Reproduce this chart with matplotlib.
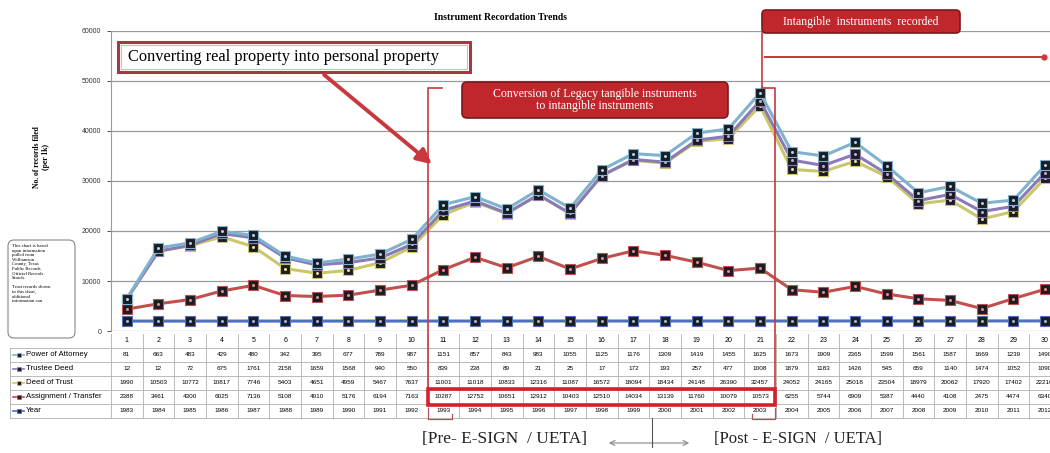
import matplotlib.pyplot as plt
import numpy as np
from matplotlib.patches import Rectangle, FancyBboxPatch, FancyArrowPatch

plt.rcParams['font.family'] = ['Liberation Sans', 'DejaVu Sans']

periods = list(range(1, 31))
years = list(range(1983, 2013))
power_of_attorney = [81, 663, 483, 429, 480, 342, 395, 677, 789, 987, 1151, 857, 843, 983, 1055,
                     1125, 1176, 1309, 1419, 1455, 1625, 1673, 1909, 2365, 1599, 1561, 1587, 1669, 1239, 1490]
trustee_deed = [12, 12, 72, 675, 1761, 2158, 1659, 1568, 940, 550, 839, 238, 89, 21, 25,
                17, 172, 193, 257, 477, 1008, 1879, 1183, 1426, 545, 659, 1140, 1474, 1052, 1090]
deed_of_trust = [1990, 10503, 10772, 10817, 7746, 5403, 4651, 4959, 5467, 7637, 11001, 11018, 10833, 12316, 11087,
                 16572, 18094, 18434, 24148, 26390, 32457, 24052, 24165, 25018, 23504, 18979, 20062, 17920, 17402, 22210]
assignment = [2388, 3461, 4300, 6025, 7136, 5108, 4910, 5176, 6194, 7163, 10287, 12752, 10651, 12912, 10403,
              12510, 14034, 13139, 11760, 10079, 10573, 6255, 5744, 6909, 5387, 4440, 4108, 2475, 4474, 6340]

W, H = 1050, 453
fig = plt.figure(figsize=(W / 100, H / 100), dpi=100)

def fx(x):
    return x / W

def fy(y):
    return 1 - y / H

# main plot area (runs off the right edge like the original screenshot)
ax = fig.add_axes([fx(110.9), fy(331), 950 / W, 300 / H])
ax.set_xlim(0.5, 30.5)
ax.set_ylim(0, 60000)
ax.set_yticks(range(0, 60001, 10000))
ax.tick_params(axis='y', labelsize=5, colors='#333333', length=3, width=0.6, pad=4)
ax.set_xticks([])
for s in ['top', 'right', 'bottom']:
    ax.spines[s].set_visible(False)
ax.spines['left'].set_color('#999999')
ax.grid(axis='y', color='#999999', lw=0.9)
ax.set_axisbelow(True)

stack = [years, assignment, deed_of_trust, trustee_deed, power_of_attorney]
colors = ['#4f6fc0', '#c0504d', '#c9c76a', '#8a7ab8', '#7fb2cf']
inner = ['#9db3e8', '#e08b88', '#e8e48a', '#b8a8de', '#a8d4ea']
cum = np.cumsum(np.array(stack, dtype=float), axis=0)
for i in range(len(stack)):
    ax.plot(periods, cum[i], '-', color=colors[i], lw=2.2, zorder=3 + i)
    ax.plot(periods, cum[i], 's', ms=7, mfc='#1c1c24', mec=colors[i], mew=0.8, zorder=3 + i)
    ax.plot(periods, cum[i], 'o', ms=2.2, mfc=inner[i], mec='none', zorder=3 + i)

ax.text(-0.073, 0.58, 'No. of records filed\n(per 1k)', transform=ax.transAxes, rotation=90,
        ha='center', va='center', fontsize=5.5, fontweight='bold', family='Liberation Serif')

# overlay in pixel coordinates for table and annotations
ov = fig.add_axes([0, 0, 1, 1])
ov.set_xlim(0, W)
ov.set_ylim(H, 0)
ov.axis('off')

ov.text(500, 18, 'Instrument Recordation Trends', ha='center', va='center', fontsize=7,
        fontweight='bold', family='Liberation Serif')

# data table
x0, cw = 110.9, 950 / 30
top, rh = 334, 14
row_names = ['Power of Attorney', 'Trustee Deed', 'Deed of Trust', 'Assignment / Transfer', 'Year']
row_vals = [power_of_attorney, trustee_deed, deed_of_trust, assignment, years]
row_cols = [colors[4], colors[3], colors[2], colors[1], colors[0]]
gc = '#b0b0b0'
for k in range(31):
    ov.plot([x0 + k * cw] * 2, [top, top + 6 * rh], color=gc, lw=0.6)
for r in range(1, 7):
    ov.plot([10, x0 + 30 * cw], [top + r * rh] * 2, color=gc, lw=0.6)
ov.plot([10, 10], [top + rh, top + 6 * rh], color=gc, lw=0.6)
for j, p in enumerate(periods):
    ov.text(x0 + (j + 0.5) * cw, top + rh / 2, str(p), ha='center', va='center', fontsize=5)
for r, (name, vals, c) in enumerate(zip(row_names, row_vals, row_cols)):
    yc = top + (r + 1.5) * rh
    ov.plot([13, 24], [yc, yc], color=c, lw=1.2)
    ov.plot([18.5], [yc], 's', ms=2.5, mfc='#1c1c24', mec=c, mew=0.5)
    ov.text(26, yc, name, ha='left', va='center', fontsize=5.6)
    for j, v in enumerate(vals):
        ov.text(x0 + (j + 0.5) * cw, yc, str(v), ha='center', va='center', fontsize=4.6)

red = '#c0272d'
# converting box + arrow
ov.add_patch(Rectangle((118, 42), 352, 30, fc='white', ec='#a33a3f', lw=2.2, zorder=5))
ov.add_patch(Rectangle((121, 45), 346, 24, fc='none', ec='#e3b5b7', lw=0.8, zorder=5))
ov.text(128, 57, 'Converting real property into personal property', ha='left', va='center',
        fontsize=11.8, family='Liberation Serif', zorder=6)
ov.add_patch(FancyArrowPatch((322, 73), (434, 166), arrowstyle='-|>', mutation_scale=22,
                             color='#c8383d', lw=2.8, zorder=6))

# conversion label
ov.add_patch(FancyBboxPatch((462, 82), 266, 36, boxstyle='round,pad=0,rounding_size=5',
                            fc=red, ec='#7a1a1e', lw=1.2, zorder=6))
ov.text(595, 100, 'Conversion of Legacy tangible instruments\nto intangible instruments', ha='center',
        va='center', color='white', fontsize=8.5, family='Liberation Serif', linespacing=1.1, zorder=7)

# intangible label
ov.add_patch(FancyBboxPatch((762, 10), 198, 23, boxstyle='round,pad=0,rounding_size=4',
                            fc=red, ec='#7a1a1e', lw=1.2, zorder=6))
ov.text(861, 21.5, 'Intangible  instruments  recorded', ha='center', va='center', color='white',
        fontsize=8.5, family='Liberation Serif', zorder=7)
ov.plot([762, 762], [33, 88], color='#c8383d', lw=1.2, zorder=6)
ov.plot([765, 1042], [57, 57], color='#c8383d', lw=1.4, zorder=6)
ov.plot([1044], [57], 'o', ms=3.5, color='#c8383d', zorder=6)

# bracket around the conversion period
bc = '#c8383d'
ov.plot([442, 428, 428], [88, 88, 390], color=bc, lw=1.2, zorder=6)
ov.plot([762, 775, 775], [88, 88, 390], color=bc, lw=1.2, zorder=6)
ov.add_patch(Rectangle((428, 389), 347, 16, fc='none', ec='#d3202a', lw=2.6, zorder=7))
ov.plot([428, 428, 452, 452], [408, 419, 419, 414], color='#b0555a', lw=0.9, zorder=7)
ov.plot([752, 752, 775, 775], [414, 419, 419, 408], color='#b0555a', lw=0.9, zorder=7)

# pre / post labels
ov.plot([652, 652], [418, 447], color='#555555', lw=0.8)
ov.add_patch(FancyArrowPatch((606, 443), (692, 443), arrowstyle='<->', mutation_scale=9,
                             color='#888888', lw=0.8))
ov.text(505, 439, '[Pre- E-SIGN  / UETA]', ha='center', va='center', fontsize=12.5,
        family='Liberation Serif', color='#222222')
ov.text(798, 439, '[Post - E-SIGN  / UETA]', ha='center', va='center', fontsize=12,
        family='Liberation Serif', color='#222222')

# source note on the left
ov.add_patch(FancyBboxPatch((8, 240), 67, 98, boxstyle='round,pad=0,rounding_size=6',
                            fc='white', ec='#777777', lw=0.7))
ov.text(12, 244, 'This chart is based\nupon information\npulled from\nWilliamson\nCounty, Texas\n'
        'Public Records\nOfficial Records\nSearch.\n\nTrust records shown\nin this chart,\n'
        'additional\ninformation can', ha='left', va='top', fontsize=3.4, linespacing=1.2,
        family='Liberation Serif')

fig.savefig('out.png', dpi=100)
